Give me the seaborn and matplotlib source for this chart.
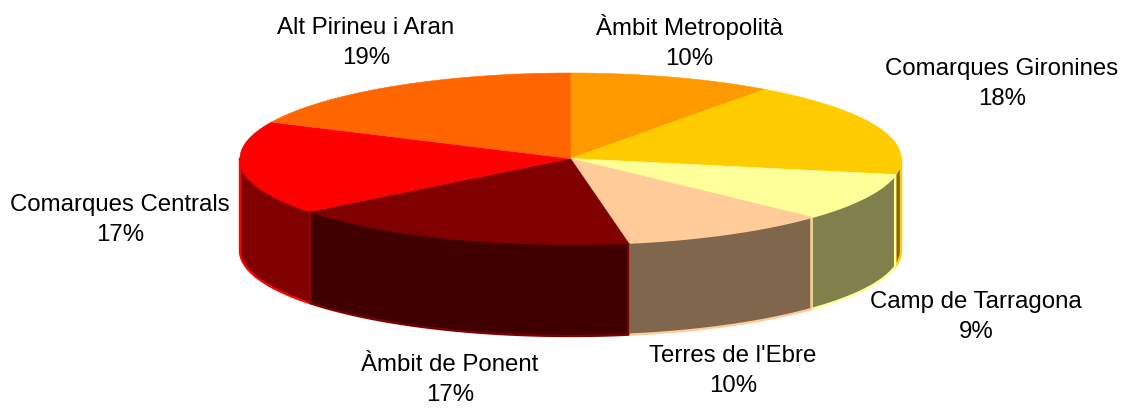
import numpy as np
import seaborn as sns
import matplotlib.pyplot as plt

regions = ["Àmbit Metropolità", "Comarques Gironines", "Camp de Tarragona", "Terres de l'Ebre",
           "Àmbit de Ponent", "Comarques Centrals", "Alt Pirineu i Aran"]
# slice sizes as measured on the drawn pie, the printed percentages are kept apart
slice_sizes = [10, 18, 9, 10.2, 17.2, 17.6, 18]
percent_labels = ["10%", "18%", "9%", "10%", "17%", "17%", "19%"]
top_colors = ["#FF9900", "#FFCC00", "#FFFF99", "#FFCC99", "#800000", "#FF0000", "#FF6600"]

# layout, in pixels of the 1125x408 figure
cx, cy = 570.5, 158.5
rx, ry = 330.5, 85.5
depth = 92
label_xy = [(689, 42), (1002, 84), (976, 317), (733, 371), (450, 380), (120, 220), (366, 43)]

sns.set_theme(style="white")
plt.rcParams["font.family"] = ["Liberation Sans", "DejaVu Sans"]

palette = sns.color_palette(top_colors)
side_palette = [tuple(c * 0.5 for c in col) for col in palette]


def rim(a, b, dy=0):
    # angles clockwise from 12 o'clock, in degrees
    t = np.radians(np.linspace(a, b, 120))
    return cx + rx * np.sin(t), cy - ry * np.cos(t) + dy


fig, ax = plt.subplots(figsize=(11.25, 4.08), dpi=100)
fig.subplots_adjust(left=0, right=1, bottom=0, top=1)
ax.set_xlim(0, 1125)
ax.set_ylim(408, 0)
ax.axis("off")

edges = np.cumsum([0] + slice_sizes) / sum(slice_sizes) * 360

# walls first, the ones next to the viewer last
for i in [5, 1, 2, 3, 4]:
    a, b = max(edges[i], 90), min(edges[i + 1], 270)
    x1, y1 = rim(a, b)
    x2, y2 = rim(a, b, depth)
    ax.fill(np.r_[x1, x2[::-1]], np.r_[y1, y2[::-1]], facecolor=side_palette[i],
            edgecolor=palette[i], lw=1.7, joinstyle="round")

for i in range(len(slice_sizes)):
    x, y = rim(edges[i], edges[i + 1])
    ax.fill(np.r_[cx, x], np.r_[cy, y], facecolor=palette[i], edgecolor=palette[i], lw=0.4)

for name, pct, (lx, ly) in zip(regions, percent_labels, label_xy):
    ax.text(lx, ly, f"{name}\n{pct}", ha="center", va="center", fontsize=17.3,
            color="black", linespacing=1.43)

fig.savefig("out.png", dpi=100)
